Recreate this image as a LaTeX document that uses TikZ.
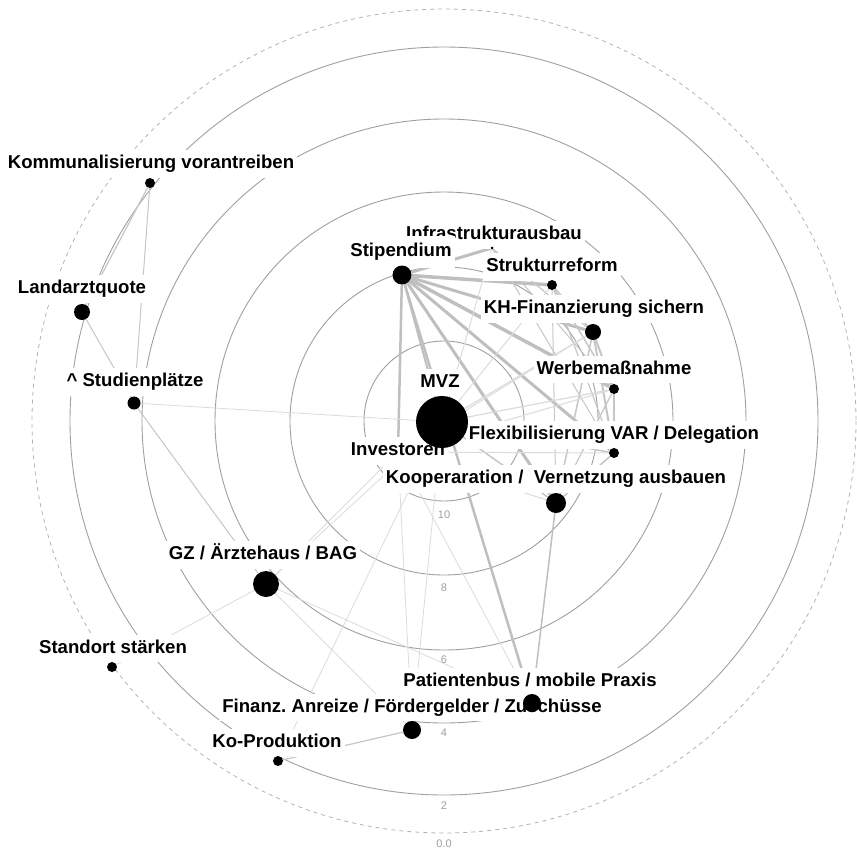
\documentclass[tikz,border=0pt]{standalone}
\usepackage{fontspec}
\setmainfont{Liberation Sans}
\frenchspacing
\pgfdeclarelayer{rings}
\pgfdeclarelayer{edges}
\pgfdeclarelayer{labels}
\pgfsetlayers{rings,edges,labels,main}
\begin{document}
\begin{tikzpicture}[x=1pt,y=-1pt,
  ring/.style={draw=gray!75, line width=0.9pt},
  outerring/.style={draw=gray!60, line width=0.8pt, dash pattern=on 4pt off 4pt},
  axislabel/.style={text=gray!75, font=\fontsize{11}{11}\selectfont, inner sep=0pt},
  lbl/.style={fill=white, font=\bfseries\fontsize{18.6}{18.6}\selectfont,
    text height=13.5pt, text depth=4pt, inner xsep=3pt, inner ysep=5pt, anchor=base},
  dot/.style={circle, fill=black, inner sep=0pt, minimum size=#1},
  hidden/.style={circle, inner sep=0pt, minimum size=0pt},
  strong/.style={draw=gray!50, line width=#1},
  mid/.style={draw=gray!45, line width=#1},
  faint/.style={draw=gray!28, line width=#1},
]
\useasboundingbox (0,0) rectangle (857,849);

% nodes (dots)
\node[dot=52pt] (mvz)    at (442,422) {};
\node[dot=19pt] (stip)   at (402,275) {};
\node[dot=3pt]  (infra)  at (492,248) {};
\node[dot=10pt] (struk)  at (552,285) {};
\node[dot=16pt] (kh)     at (593,332) {};
\node[dot=10pt] (werbe)  at (614,389) {};
\node[dot=10pt] (flex)   at (614,453) {};
\node[dot=20pt] (koop)   at (556,503) {};
\node[hidden]   (inv)    at (398,452) {};
\node[dot=10pt] (komm)   at (150,183) {};
\node[dot=16pt] (land)   at (82,312) {};
\node[dot=13pt] (stud)   at (134,403) {};
\node[dot=26pt] (gz)     at (266,584) {};
\node[dot=10pt] (stand)  at (112,667) {};
\node[dot=18pt] (fin)    at (412,730) {};
\node[dot=10pt] (ko)     at (278,761) {};
\node[dot=18pt] (patbus) at (532,703) {};

% concentric rings and radial axis
\begin{pgfonlayer}{rings}
  \coordinate (c) at (444,421);
  \foreach \r in {80,154,229,302,374} \draw[ring] (c) circle[radius=\r];
  \draw[outerring] (c) circle[radius=412];
  \node[axislabel] (a10) at (444,515) {10};
  \node[axislabel] (a8)  at (444,588) {8};
  \node[axislabel] (a6)  at (444,660) {6};
  \node[axislabel] (a4)  at (444,733) {4};
  \node[axislabel] (a2)  at (444,806) {2};
  \node[axislabel] (a0)  at (444,844) {0.0};
\end{pgfonlayer}

% connectors
\begin{pgfonlayer}{edges}
  % Stipendium fan
  \draw[strong=3pt]   (stip) -- (infra);
  \draw[strong=3.5pt] (stip) -- (struk);
  \draw[strong=3pt]   (stip) -- (kh);
  \draw[strong=3.5pt] (stip) -- (werbe);
  \draw[strong=3pt]   (stip) -- (flex);
  \draw[strong=3pt]   (stip) -- (koop);
  \draw[strong=2.5pt] (stip) -- (patbus);
  \draw[strong=2pt]   (stip) -- (mvz);
  \draw[strong=2.5pt] (stip) -- (inv);
  % right-hand cluster
  \draw[mid=1.2pt] (infra) -- (kh);
  \draw[mid=1pt]   (infra) -- (werbe);
  \draw[mid=1pt]   (infra) -- (flex);
  \draw[mid=1.5pt] (struk) -- (kh);
  \draw[mid=1.5pt] (struk) -- (werbe);
  \draw[mid=1.2pt] (struk) -- (flex);
  \draw[mid=1pt]   (struk) -- (koop);
  \draw[mid=2pt]   (kh) -- (werbe);
  \draw[mid=2pt]   (kh) -- (flex);
  \draw[mid=1.5pt] (kh) -- (koop);
  \draw[mid=2.5pt] (werbe) -- (flex);
  \draw[mid=1.2pt] (werbe) -- (koop);
  \draw[mid=1.5pt] (flex) -- (koop);
  \draw[faint=1pt]   (mvz) -- (infra);
  \draw[faint=1pt]   (mvz) -- (struk);
  \draw[faint=1.2pt] (mvz) -- (kh);
  \draw[faint=1.2pt] (mvz) -- (werbe);
  \draw[mid=1.5pt]   (mvz) -- (flex);
  \draw[mid=1.5pt]   (mvz) -- (koop);
  \draw[faint=1pt] (inv) -- (kh);
  \draw[faint=1pt] (inv) -- (werbe);
  \draw[faint=1pt] (inv) -- (flex);
  \draw[faint=1pt] (inv) -- (koop);
  % left and lower part
  \draw[faint=0.8pt] (stud) -- (mvz);
  \draw[mid=1pt]     (stud) -- (land);
  \draw[mid=1pt]     (stud) -- (komm);
  \draw[mid=1.2pt]   (komm) -- (land);
  \draw[mid=1pt]     (stud) -- (gz);
  \draw[faint=0.8pt] (gz) -- (mvz);
  \draw[faint=0.8pt] (gz) -- (inv);
  \draw[faint=0.8pt] (gz) -- (stand);
  \draw[faint=0.8pt] (gz) -- (fin);
  \draw[faint=0.8pt] (gz) -- (patbus);
  \draw[mid=1.2pt]   (fin) -- (ko);
  \draw[faint=0.8pt] (fin) -- (inv);
  \draw[faint=0.8pt] (fin) -- (mvz);
  \draw[faint=0.8pt] (ko) -- (mvz);
  \draw[strong=1.5pt] (patbus) -- (koop);
  \draw[faint=0.8pt] (patbus) -- (inv);
\end{pgfonlayer}

% labels on white boxes
\begin{pgfonlayer}{labels}
  \node[lbl] (l-infra)  at (494,239.5) {Infrastrukturausbau};
  \node[lbl, inner ysep=7pt] (l-stip) at (401,256.5) {Stipendium};
  \node[lbl] (l-struk)  at (552,271.5) {Strukturreform};
  \node[lbl] (l-kh)     at (594,313.5) {KH-Finanzierung sichern};
  \node[lbl] (l-werbe)  at (614,374) {Werbemaßnahme};
  \node[lbl] (l-mvz)    at (440,387) {MVZ};
  \node[lbl] (l-flex)   at (614,439.5) {Flexibilisierung VAR / Delegation};
  \node[lbl] (l-inv)    at (398,455.5) {Investoren};
  \node[lbl] (l-koop)   at (556,483.5) {Kooperaration /\ \ Vernetzung ausbauen};
  \node[lbl] (l-komm)   at (151,168.5) {Kommunalisierung vorantreiben};
  \node[lbl] (l-land)   at (82,293.5) {Landarztquote};
  \node[lbl] (l-stud)   at (135,386.5) {\textasciicircum{} Studienplätze};
  \node[lbl] (l-gz)     at (263,559.5) {GZ / Ärztehaus / BAG};
  \node[lbl] (l-stand)  at (113,653) {Standort stärken};
  \node[lbl] (l-patbus) at (530,686.5) {Patientenbus / mobile Praxis};
  \node[lbl] (l-fin)    at (412,712) {Finanz. Anreize / Fördergelder / Zuschüsse};
  \node[lbl] (l-ko)     at (277,747.5) {Ko-Produktion};
\end{pgfonlayer}
\end{tikzpicture}
\end{document}
